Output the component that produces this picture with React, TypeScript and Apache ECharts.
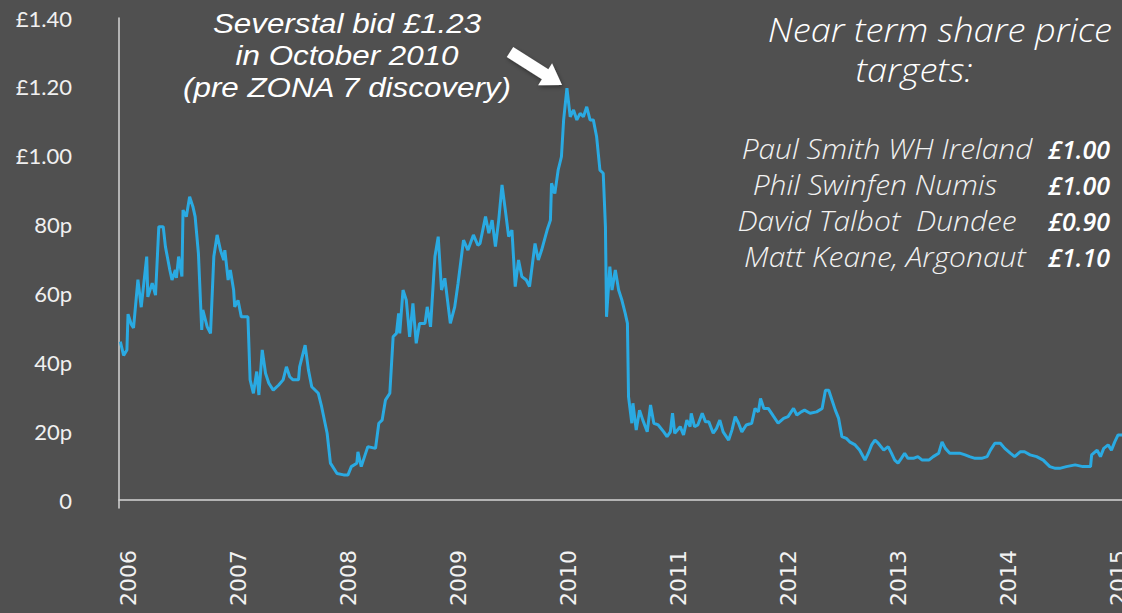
import React, { useEffect, useRef } from "react";
import * as echarts from "echarts";

// Fractional year of each observation
const dates = [
  2005.93, 2005.96, 2005.99, 2006.0, 2006.03, 2006.05, 2006.09, 2006.12, 2006.17, 2006.18,
  2006.22, 2006.25, 2006.28, 2006.32, 2006.34, 2006.38, 2006.4, 2006.43, 2006.44, 2006.46,
  2006.49, 2006.5, 2006.53, 2006.56, 2006.59, 2006.61, 2006.64, 2006.67, 2006.68, 2006.72,
  2006.75, 2006.78, 2006.81, 2006.84, 2006.87, 2006.88, 2006.91, 2006.93, 2006.96, 2006.97,
  2007.0, 2007.03, 2007.09, 2007.11, 2007.14, 2007.17, 2007.19, 2007.22, 2007.25, 2007.28,
  2007.32, 2007.37, 2007.41, 2007.44, 2007.47, 2007.5, 2007.55, 2007.56, 2007.61, 2007.64,
  2007.67, 2007.73, 2007.76, 2007.81, 2007.84, 2007.9, 2007.96, 2008.0, 2008.03, 2008.08,
  2008.09, 2008.12, 2008.15, 2008.18, 2008.25, 2008.28, 2008.31, 2008.34, 2008.38, 2008.41,
  2008.44, 2008.46, 2008.47, 2008.5, 2008.53, 2008.56, 2008.59, 2008.62, 2008.65, 2008.7,
  2008.72, 2008.75, 2008.79, 2008.82, 2008.85, 2008.88, 2008.93, 2008.97, 2009.0, 2009.05,
  2009.09, 2009.14, 2009.18, 2009.2, 2009.25, 2009.28, 2009.31, 2009.34, 2009.37, 2009.4,
  2009.43, 2009.46, 2009.49, 2009.52, 2009.55, 2009.58, 2009.62, 2009.65, 2009.7, 2009.73,
  2009.76, 2009.81, 2009.84, 2009.85, 2009.88, 2009.91, 2009.94, 2009.96, 2009.99, 2010.02,
  2010.05, 2010.08, 2010.11, 2010.14, 2010.17, 2010.2, 2010.23, 2010.26, 2010.29, 2010.32,
  2010.34, 2010.35, 2010.38, 2010.4, 2010.43, 2010.46, 2010.49, 2010.52, 2010.54, 2010.55,
  2010.58, 2010.59, 2010.62, 2010.65, 2010.68, 2010.72, 2010.75, 2010.78, 2010.82, 2010.87,
  2010.9, 2010.93, 2010.95, 2010.97, 2011.02, 2011.05, 2011.08, 2011.11, 2011.12, 2011.15,
  2011.18, 2011.22, 2011.25, 2011.28, 2011.32, 2011.35, 2011.38, 2011.41, 2011.46, 2011.49,
  2011.52, 2011.55, 2011.58, 2011.62, 2011.67, 2011.7, 2011.73, 2011.75, 2011.78, 2011.82,
  2011.87, 2011.91, 2011.96, 2012.0, 2012.05, 2012.08, 2012.12, 2012.15, 2012.2, 2012.26,
  2012.31, 2012.34, 2012.37, 2012.4, 2012.43, 2012.46, 2012.49, 2012.53, 2012.56, 2012.61,
  2012.65, 2012.7, 2012.73, 2012.76, 2012.79, 2012.82, 2012.87, 2012.91, 2012.94, 2012.97,
  2013.0, 2013.03, 2013.06, 2013.09, 2013.14, 2013.18, 2013.22, 2013.28, 2013.32, 2013.37,
  2013.4, 2013.43, 2013.47, 2013.52, 2013.56, 2013.61, 2013.65, 2013.7, 2013.76, 2013.81,
  2013.84, 2013.88, 2013.93, 2013.97, 2014.02, 2014.06, 2014.11, 2014.15, 2014.2, 2014.26,
  2014.32, 2014.38, 2014.43, 2014.47, 2014.53, 2014.61, 2014.68, 2014.75, 2014.76, 2014.81,
  2014.84, 2014.87, 2014.91, 2014.94, 2014.97, 2015.0, 2015.04,
];

// Share price in pence
const pence = [
  46, 42, 43.6, 54, 51, 50, 64, 56, 70.7, 59,
  63, 59.5, 79.4, 79.4, 73.6, 66.8, 63.9, 66.8, 64.5, 70.7,
  64.9, 84.2, 82.3, 88.1, 85.2, 82.3, 71.6, 49.4, 55.2, 50.3,
  48.4, 70.7, 77, 72.6, 69.7, 72.6, 63.9, 66.8, 61, 56.1,
  58, 53.2, 53.2, 34.9, 31, 37.3, 30.5, 43.6, 36.8, 33.9,
  31.9, 33.4, 34.9, 38.7, 35.8, 34.9, 34.9, 38.7, 45, 37.8,
  32.9, 31, 27.1, 19.4, 10.7, 7.7, 7.3, 7.3, 9.7, 10.7,
  14, 9.7, 12.6, 15.5, 15, 22.3, 23.2, 29, 31, 47.4,
  48.4, 54.2, 48.4, 61, 58, 47.4, 57.1, 45.5, 51.3, 51.3,
  56.1, 50.3, 70.7, 76.5, 61, 64.4, 51.3, 56.1, 62.9, 75.5,
  72.6, 77, 74, 74.5, 82.3, 77.5, 81.3, 73.6, 81.3, 91.5,
  84.2, 76.5, 78.4, 62, 69.7, 64.9, 63.9, 62, 74.5, 69.7,
  72.6, 78.4, 81.3, 92, 89, 95.8, 99.7, 110.4, 119.6, 111.3,
  113.3, 110.4, 112.3, 111.3, 114.2, 110.4, 110.4, 105.5, 95.8, 94.9,
  79.4, 53.2, 67.8, 61, 66.8, 61, 58, 54.2, 51.3, 30,
  22.3, 28.1, 20.3, 26.1, 23.2, 19.8, 27.6, 22.3, 21.8, 19.8,
  18.4, 19.8, 25.2, 19.4, 21.3, 18.9, 23.2, 21.3, 25.2, 21.3,
  21.8, 25.2, 22.7, 22.7, 19.4, 20.8, 23.2, 19.8, 17.4, 20.3,
  24.2, 22.3, 19.8, 21.8, 22.3, 26.6, 25.6, 29.5, 26.6, 26.6,
  24.2, 22.3, 23.7, 24.2, 26.6, 24.7, 25.6, 26.1, 25.2, 25.6,
  26.6, 31.9, 31.9, 29, 26.1, 23.7, 18.4, 17.9, 16.9, 16,
  14.5, 11.6, 13.6, 16, 17.4, 16.5, 14.5, 15.5, 13.6, 11.6,
  10.7, 12.1, 13.6, 12.1, 12.1, 12.6, 11.6, 11.6, 12.6, 13.6,
  16.9, 15, 13.6, 13.6, 13.6, 13.1, 12.6, 12.1, 12.1, 12.6,
  14.5, 16.5, 16.5, 15, 13.6, 12.6, 14, 14, 13.1, 12.6,
  11.6, 9.7, 9.2, 9.2, 9.7, 10.2, 9.7, 9.7, 13.1, 14.5,
  12.6, 15, 16, 14.5, 16.9, 18.9, 18.9,
];

const yearLabels = [2006, 2007, 2008, 2009, 2010, 2011, 2012, 2013, 2014, 2015];
const priceTicks = [0, 20, 40, 60, 80, 100, 120, 140];

const annotationLines = ["Severstal bid £1.23", "in October 2010", "(pre ZONA 7 discovery)"];
const titleLines = ["Near term share price", "targets:"];
const analysts = ["Paul Smith WH Ireland", "Phil Swinfen Numis", "David Talbot  Dundee", "Matt Keane, Argonaut"];
const targets = ["£1.00", "£1.00", "£0.90", "£1.10"];

function arrowPoints(tx: number, ty: number, hx: number, hy: number, sw: number, hw: number, hl: number) {
  const dx = hx - tx, dy = hy - ty;
  const L = Math.hypot(dx, dy);
  const ux = dx / L, uy = dy / L;
  const nx = -uy, ny = ux;
  const bx = hx - hl * ux, by = hy - hl * uy;
  return [
    [tx + sw * nx, ty + sw * ny],
    [bx + sw * nx, by + sw * ny],
    [bx + hw * nx, by + hw * ny],
    [hx, hy],
    [bx - hw * nx, by - hw * ny],
    [bx - sw * nx, by - sw * ny],
    [tx - sw * nx, ty - sw * ny],
  ];
}

export default function App() {
  const ref = useRef<HTMLDivElement>(null);

  useEffect(() => {
    if (!ref.current) return;
    const chart = echarts.init(ref.current, undefined, { renderer: "svg" });
    const data = dates.map((d, i) => [d, pence[i]]);

    const graphics: any[] = [];
    const annY = [23.5, 55.5, 87.5];
    annotationLines.forEach((t, i) => {
      graphics.push({
        type: "text",
        x: 347,
        y: annY[i],
        scaleX: 1.1,
        style: {
          text: t,
          fill: "#ffffff",
          fontFamily: "'Liberation Sans', Arial, sans-serif",
          fontStyle: "italic",
          fontSize: 28.5,
          textAlign: "center",
          textVerticalAlign: "middle",
        },
      });
    });
    graphics.push({
      type: "polygon",
      shape: { points: arrowPoints(510, 52, 562, 85, 6, 13, 20) },
      style: { fill: "#ffffff", shadowBlur: 4, shadowColor: "rgba(0,0,0,0.4)", shadowOffsetX: 1, shadowOffsetY: 2 },
    });
    // Title
    graphics.push({
      type: "text",
      x: 1112,
      y: 29,
      scaleX: 1.1,
      style: {
        text: titleLines[0],
        fill: "#ffffff",
        font: "italic 300 33px 'Open Sans', sans-serif",
        textAlign: "right",
        textVerticalAlign: "middle",
      },
    });
    graphics.push({
      type: "text",
      x: 914,
      y: 69,
      scaleX: 1.1,
      style: {
        text: titleLines[1],
        fill: "#ffffff",
        font: "italic 300 33px 'Open Sans', sans-serif",
        textAlign: "center",
        textVerticalAlign: "middle",
      },
    });
    const nameX = [887, 875, 877, 885];
    const rowY = [149, 185, 221, 257];
    analysts.forEach((n, i) => {
      graphics.push({
        type: "text",
        x: nameX[i],
        y: rowY[i],
        scaleX: 1.11,
        style: {
          text: n,
          fill: "#f2f2f2",
          font: "italic 300 27px 'Open Sans', sans-serif",
          textAlign: "center",
          textVerticalAlign: "middle",
        },
      });
      graphics.push({
        type: "text",
        x: 1110,
        y: rowY[i],
        style: {
          text: targets[i],
          fill: "#ffffff",
          font: "italic 600 25px 'Open Sans', sans-serif",
          textAlign: "right",
          textVerticalAlign: "middle",
        },
      });
    });

    chart.setOption({
      animation: false,
      backgroundColor: "#505050",
      grid: { left: 119, right: 0, top: 18, bottom: 105, containLabel: false, outerBoundsMode: "none" },
      xAxis: {
        type: "value",
        min: 2005.918,
        max: 2015.036,
        axisLine: { show: true, lineStyle: { color: "#d4d4d4", width: 1.5 } },
        axisTick: { show: false },
        splitLine: { show: false },
        axisLabel: {
          customValues: yearLabels,
          rotate: 90,
          margin: 42,
          fontSize: 22,
          fontFamily: "DejaVu Sans",
          color: "#f2f2f2",
          formatter: (v: number) => String(Math.round(v)),
        },
      },
      yAxis: {
        type: "value",
        min: -2.32,
        max: 140,
        axisLine: { show: true, lineStyle: { color: "#d4d4d4", width: 1.5 } },
        axisTick: { show: false },
        splitLine: { show: false },
        axisLabel: {
          customValues: priceTicks,
          margin: 47,
          fontSize: 22,
          fontFamily: "Lato",
          color: "#f0f0f0",
          formatter: (v: number) => {
            const r = Math.round(v);
            if (r === 0) return "0";
            if (r >= 100) return "£" + (r / 100).toFixed(2);
            return r + "p";
          },
        },
      },
      series: [
        {
          type: "line",
          data,
          showSymbol: false,
          lineStyle: { color: "#2aaae2", width: 3 },
          silent: true,
        },
      ],
      graphic: graphics,
    });

    return () => chart.dispose();
  }, []);

  return (
    <div
      ref={ref}
      style={{ position: "fixed", left: 0, top: 0, width: 1122, height: 613 }}
    />
  );
}
